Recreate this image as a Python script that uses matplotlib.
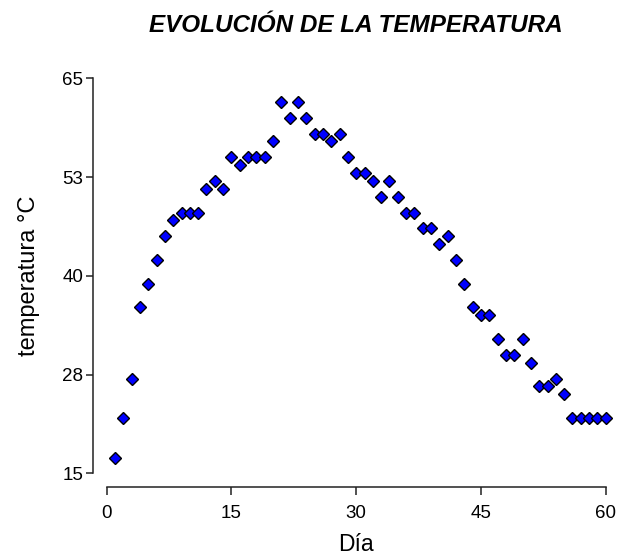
import matplotlib
matplotlib.use("Agg")
import matplotlib.pyplot as plt

# temperature readings per day
dias = list(range(1, 61))
temperatura = [17, 22, 27, 36, 39, 42, 45, 47, 48, 48,
               48, 51, 52, 51, 55, 54, 55, 55, 55, 57,
               62, 60, 62, 60, 58, 58, 57, 58, 55, 53,
               53, 52, 50, 52, 50, 48, 48, 46, 46, 44,
               45, 42, 39, 36, 35, 35, 32, 30, 30, 32,
               29, 26, 26, 27, 25, 22, 22, 22, 22, 22]

x_ticks = [0, 15, 30, 45, 60]
y_ticks = [15, 27.5, 40, 52.5, 65]
y_ticklabels = ["15", "28", "40", "53", "65"]

plt.rcParams['font.family'] = ['Liberation Sans', 'DejaVu Sans']

fig = plt.figure(figsize=(6.21, 5.60), dpi=100)
ax = fig.add_axes([0.1718, 0.1548, 0.8036, 0.7054])

ax.plot(dias, temperatura, linestyle='none', marker='D', markersize=6,
        markerfacecolor='#0000ff', markeredgecolor='black', markeredgewidth=1.0,
        clip_on=False)

ax.set_xlim(0, 60)
ax.set_ylim(15, 65)
ax.set_xticks(x_ticks)
ax.set_yticks(y_ticks)
ax.set_yticklabels(y_ticklabels)

# prism style: detached axes
for side in ['top', 'right']:
    ax.spines[side].set_visible(False)
for side in ['left', 'bottom']:
    ax.spines[side].set_position(('outward', 10))
    ax.spines[side].set_linewidth(1.1)
    ax.spines[side].set_color('#222222')

ax.tick_params(axis='both', direction='out', width=1.1, color='#222222',
               labelsize=13.5)
ax.tick_params(axis='x', length=6, pad=7)
ax.tick_params(axis='y', length=5, pad=2)

ax.set_xlabel('Día', fontsize=16.5, labelpad=8)
ax.set_ylabel('temperatura °C', fontsize=17, labelpad=16)
ax.set_title('EVOLUCIÓN DE LA TEMPERATURA', fontsize=17.5, fontweight='bold',
             fontstyle='italic', pad=33)

fig.savefig('out.png', dpi=100)
